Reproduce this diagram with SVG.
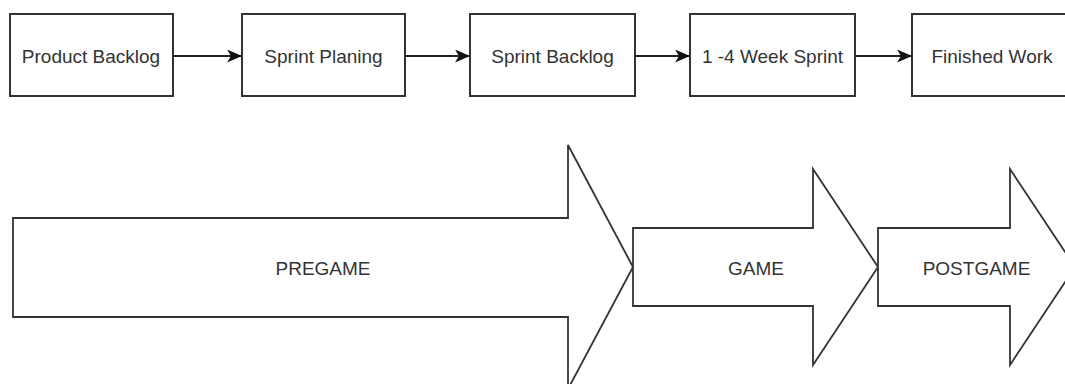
<svg xmlns="http://www.w3.org/2000/svg" width="1065" height="384" viewBox="0 0 1065 384">
<defs>
<style>
.box{fill:#fff;stroke:#333;stroke-width:2}
.big{fill:#fff;stroke:#333;stroke-width:1.8;stroke-linejoin:miter}
.lbl{font-family:"Liberation Sans",Arial,sans-serif;font-size:19px;fill:#333;text-anchor:middle;dominant-baseline:central}
.conn{stroke:#222;stroke-width:2;fill:none}
</style>
<marker id="ah" viewBox="0 0 15 13" refX="15" refY="6.5" markerWidth="15" markerHeight="13" markerUnits="userSpaceOnUse" orient="auto">
<path d="M0,0 L15,6.5 L0,13 L4,6.5 Z" fill="#111"/>
</marker>
</defs>
<rect width="1065" height="384" fill="#fff"/>
<g id="n-product-backlog"><rect class="box" x="10" y="14" width="163" height="82"/><text class="lbl" x="91" y="56">Product Backlog</text></g>
<g id="n-sprint-planing"><rect class="box" x="242" y="14" width="163" height="82"/><text class="lbl" x="323.5" y="56">Sprint Planing</text></g>
<g id="n-sprint-backlog"><rect class="box" x="470" y="14" width="165" height="82"/><text class="lbl" x="552.5" y="56">Sprint Backlog</text></g>
<g id="n-week-sprint"><rect class="box" x="690" y="14" width="165" height="82"/><text class="lbl" x="772.5" y="56">1 -4 Week Sprint</text></g>
<g id="n-finished-work"><rect class="box" x="912" y="14" width="160" height="82"/><text class="lbl" x="992" y="56">Finished Work</text></g>
<g id="connectors">
<line class="conn" x1="173" y1="56" x2="242" y2="56" marker-end="url(#ah)"/>
<line class="conn" x1="405" y1="56" x2="470" y2="56" marker-end="url(#ah)"/>
<line class="conn" x1="635" y1="56" x2="690" y2="56" marker-end="url(#ah)"/>
<line class="conn" x1="855" y1="56" x2="912" y2="56" marker-end="url(#ah)"/>
</g>
<g id="n-pregame"><path class="big" d="M13,218 L568,218 L568,145 L633,267 L568,389 L568,317 L13,317 Z"/><text class="lbl" x="323" y="268">PREGAME</text></g>
<g id="n-game"><path class="big" d="M633,228 L813,228 L813,169 L878,267 L813,365 L813,306 L633,306 Z"/><text class="lbl" x="756" y="268">GAME</text></g>
<g id="n-postgame"><path class="big" d="M878,228 L1010,228 L1010,169 L1075,267 L1010,365 L1010,306 L878,306 Z"/><text class="lbl" x="976.5" y="268">POSTGAME</text></g>
</svg>
